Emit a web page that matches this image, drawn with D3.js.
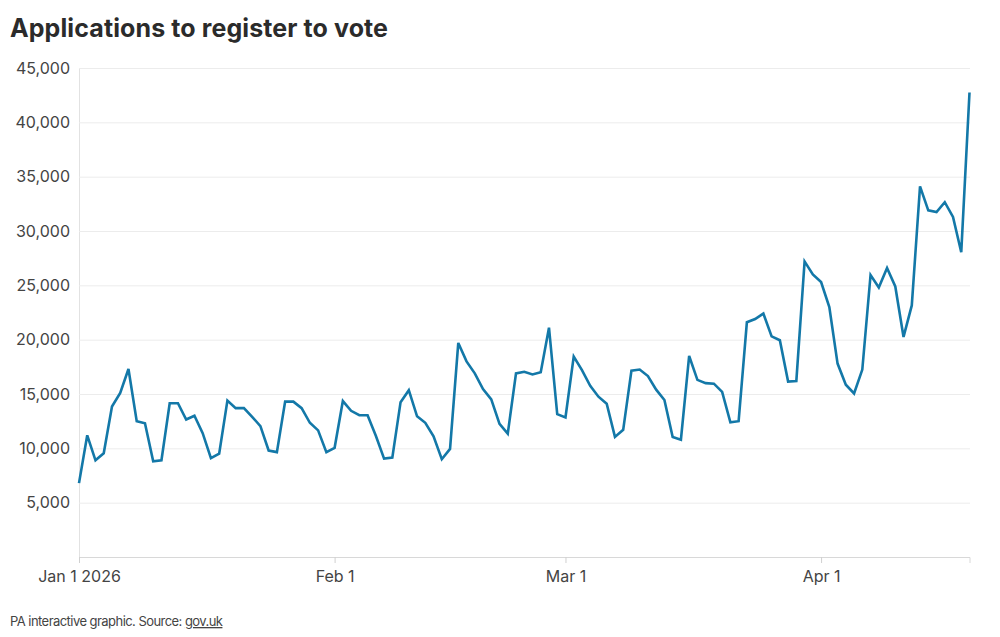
<!DOCTYPE html>
<html>
<head>
<meta charset="utf-8">
<script src="https://cdn.jsdelivr.net/npm/d3@7"></script>
<style>
  body { margin: 0; background: #fff; }
  svg { display: block; font-family: Inter, "Noto Sans", sans-serif; }
</style>
</head>
<body>
<div id="chart"></div>
<script>
// Daily applications, one value per day starting Jan 1 2026
const startDate = new Date(2026, 0, 1);
const applications = [
  6800, 11200, 8900, 9550, 13850, 15100, 17300, 12500, 12300, 8800,
  8900, 14150, 14150, 12650, 13000, 11400, 9100, 9500, 14400, 13700,
  13700, 12900, 12050, 9800, 9650, 14300, 14300, 13700, 12350, 11650,
  9650, 10050, 14350, 13450, 13050, 13050, 11150, 9050, 9150, 14250,
  15350, 12950, 12350, 11100, 9000, 9950, 19700, 18000, 16900, 15450,
  14500, 12250, 11350, 16900, 17050, 16800, 17000, 21100, 13150, 12850,
  18450, 17200, 15750, 14750, 14100, 11050, 11700, 17150, 17250, 16650,
  15400, 14450, 11050, 10800, 18500, 16300, 16000, 15950, 15200, 12400,
  12500, 21600, 21900, 22400, 20300, 19950, 16150, 16200, 27200, 26000,
  25300, 23000, 17800, 15850, 15050, 17250, 25950, 24800, 26600, 24900,
  20250, 23150, 34100, 31900, 31750, 32650, 31300, 28050, 42750
];
const yTicks = [5000, 10000, 15000, 20000, 25000, 30000, 35000, 40000, 45000];
const xTicks = [new Date(2026, 0, 1), new Date(2026, 1, 1), new Date(2026, 2, 1), new Date(2026, 3, 1)];
const xTickLabels = ["Jan 1 2026", "Feb 1", "Mar 1", "Apr 1"];

const width = 1000, height = 637;
const margin = { top: 68, left: 79, right: 30, bottom: 80 };

let data = applications.map(function(v, i) {
  return { date: d3.timeDay.offset(startDate, i), value: v };
});

let svg = d3.select("#chart").append("svg")
  .attr("width", width)
  .attr("height", height);

let x = d3.scaleTime()
  .domain([startDate, data[data.length - 1].date])
  .range([margin.left, 969.5]);

let y = d3.scaleLinear()
  .domain([0, 45000])
  .range([height - margin.bottom, margin.top]);

// title
svg.append("text")
  .attr("x", 10)
  .attr("y", 37)
  .attr("font-size", 25)
  .attr("font-weight", 700)
  .attr("letter-spacing", 0.1)
  .attr("fill", "#2b2b2b")
  .text("Applications to register to vote");

// y gridlines + labels
let yAxis = svg.append("g")
  .attr("transform", "translate(" + margin.left + ",0)")
  .call(d3.axisLeft(y).tickValues(yTicks).tickSize(-(970 - margin.left)).tickPadding(9)
    .tickFormat(d3.format(",")));
yAxis.select(".domain").attr("stroke", "#e2e2e2");
yAxis.selectAll(".tick line").attr("stroke", "#ececec");
yAxis.selectAll(".tick text")
  .attr("font-size", 16)
  .attr("fill", "#444")
  .attr("font-family", "Inter, sans-serif");

// x axis
let xAxis = svg.append("g")
  .attr("transform", "translate(0," + (height - margin.bottom) + ")")
  .call(d3.axisBottom(x).tickValues(xTicks).tickSize(6).tickPadding(8)
    .tickFormat(function(d, i) { return xTickLabels[i]; }));
xAxis.select(".domain").attr("stroke", "#d8d8d8");
xAxis.selectAll(".tick line").attr("stroke", "#d0d0d0");
xAxis.selectAll(".tick text")
  .attr("font-size", 16)
  .attr("fill", "#444")
  .attr("font-family", "Inter, sans-serif");

// the line
let line = d3.line()
  .x(function(d) { return x(d.date); })
  .y(function(d) { return y(d.value); });

svg.append("path")
  .datum(data)
  .attr("fill", "none")
  .attr("stroke", "#1378a8")
  .attr("stroke-width", 2.6)
  .attr("stroke-linejoin", "miter")
  .attr("d", line);

// footer
let foot = svg.append("text")
  .attr("x", 10)
  .attr("y", 626)
  .attr("font-size", 13)
  .attr("letter-spacing", -0.55)
  .attr("fill", "#444");
foot.append("tspan").text("PA interactive graphic. Source: ");
foot.append("tspan").attr("text-decoration", "underline").text("gov.uk");
</script>
</body>
</html>
